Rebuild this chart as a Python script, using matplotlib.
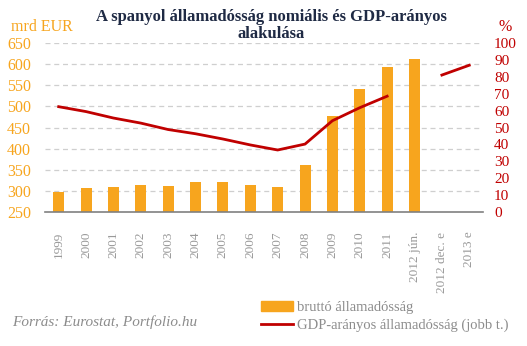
import numpy as np
import matplotlib
matplotlib.use("Agg")
import matplotlib.pyplot as plt
from matplotlib.patches import Patch
from matplotlib.lines import Line2D

categories = ['1999', '2000', '2001', '2002', '2003', '2004', '2005', '2006',
              '2007', '2008', '2009', '2010', '2011', '2012 jún.',
              '2012 dec. e', '2013 e']
debt_bn = [298, 307, 309, 314, 311, 321, 321, 314, 309, 361, 477, 541, 593, 612,
           np.nan, np.nan]
debt_gdp = [62.3, 59.4, 55.6, 52.6, 48.8, 46.3, 43.2, 39.7, 36.7, 40.2, 54.0,
            61.7, 68.5, np.nan, 81.0, 86.8]

orange = '#F7A51E'
red = '#C00000'
grey = '#8C8C8C'
plt.rcParams['font.family'] = ['Liberation Serif', 'DejaVu Serif']

fig = plt.figure(figsize=(5.27, 3.46), dpi=100)
ax = fig.add_axes([0.0854, 0.387, 0.831, 0.489])
x = np.arange(len(categories))

ax.bar(x, debt_bn, width=0.4, color=orange, zorder=2)
ax.set_ylim(250, 650)
ax.set_yticks(range(250, 651, 50))
ax.set_xlim(-0.5, len(categories) - 0.5)
for y in range(300, 651, 50):
    ax.axhline(y, color='#CFCFCF', lw=0.9, ls=(0, (4, 3)), zorder=1)
ax.set_xticks(x)
ax.set_xticklabels(categories, rotation=90, color='#999999', fontsize=9.5)
ax.tick_params(axis='x', length=0, pad=14)
ax.tick_params(axis='y', length=0, colors=orange, labelsize=11.5, pad=10)
for s in ['top', 'right', 'left']:
    ax.spines[s].set_visible(False)
ax.spines['bottom'].set_color('#808080')
ax.spines['bottom'].set_linewidth(1.2)

ax2 = ax.twinx()
ax2.plot(x, debt_gdp, color=red, lw=2, zorder=3)
ax2.set_ylim(0, 100)
ax2.set_yticks(range(0, 101, 10))
ax2.tick_params(axis='y', length=0, colors=red, labelsize=11, pad=8)
for s in ax2.spines.values():
    s.set_visible(False)

fig.text(0.515, 0.974, 'A spanyol államadósság nomiális és GDP-arányos\nalakulása',
         ha='center', va='top', fontsize=12, fontweight='bold', color='#1F2A44',
         linespacing=1.05)
fig.text(0.02, 0.922, 'mrd EUR', color=orange, fontsize=11.5, va='center')
fig.text(0.945, 0.922, '%', color=red, fontsize=11.5, va='center')
fig.text(0.022, 0.068, 'Forrás: Eurostat, Portfolio.hu', color=grey,
         fontsize=11, style='italic', va='center')

handles = [Patch(color=orange), Line2D([0], [0], color=red, lw=2)]
fig.legend(handles, ['bruttó államadósság', 'GDP-arányos államadósság (jobb t.)'],
           loc='lower left', bbox_to_anchor=(0.475, 0.01), frameon=False,
           fontsize=10.5, labelcolor=grey, handlelength=2.2, handletextpad=0.3,
           labelspacing=0.3, borderaxespad=0.3)

fig.savefig('out.png', dpi=100)
